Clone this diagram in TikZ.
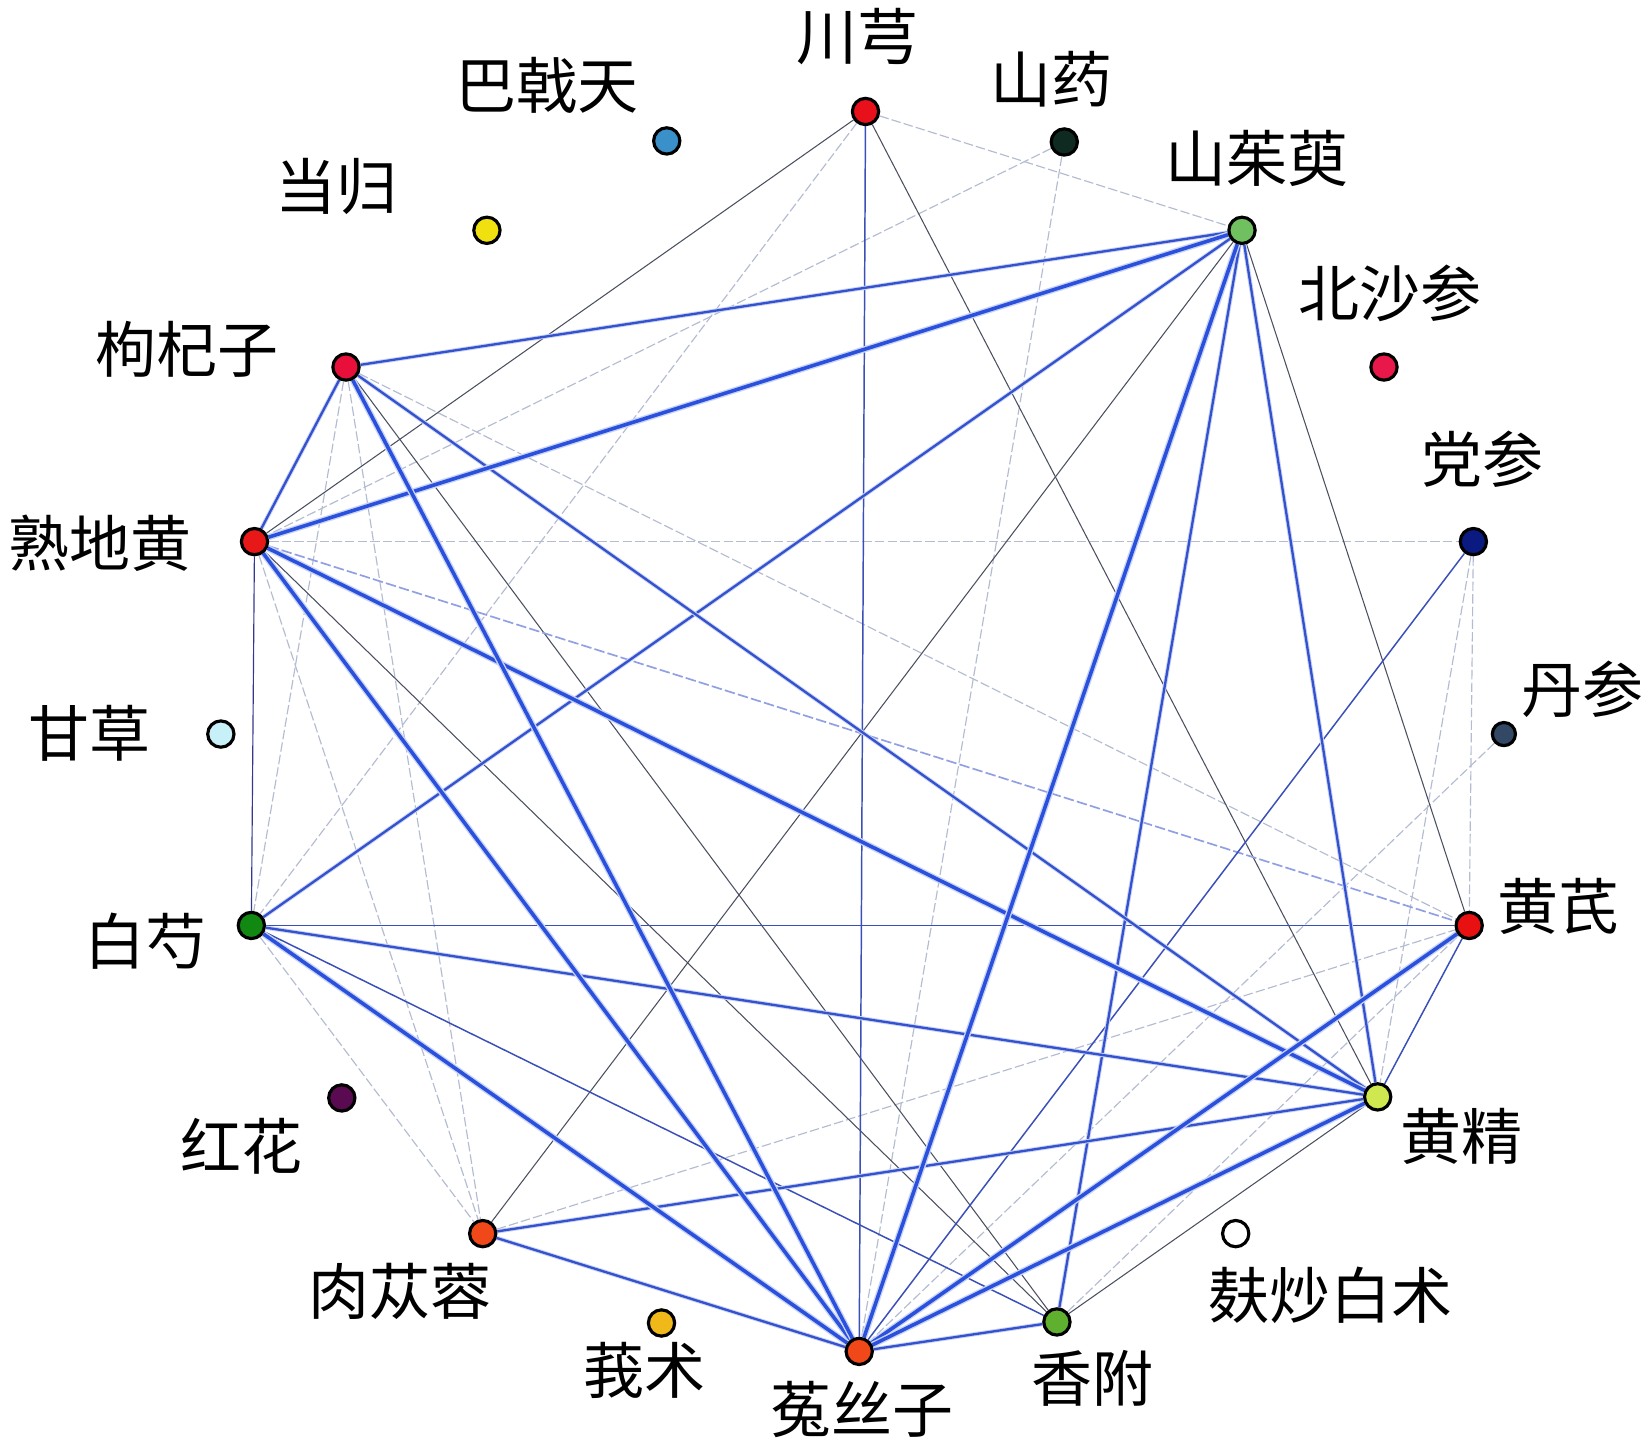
\documentclass[tikz,border=0pt]{standalone}
\usepackage{fontspec}
\setmainfont{Noto Sans CJK SC}
\usetikzlibrary{backgrounds}
\definecolor{eblue}{HTML}{2A50DC}
\definecolor{mblue}{HTML}{3552CC}
\definecolor{tblue}{HTML}{3A4FB8}
\definecolor{dgray}{HTML}{4A5060}
\definecolor{lgray}{HTML}{B4BCD2}
\definecolor{halo}{HTML}{C8D4F8}
\begin{document}
\begin{tikzpicture}[x=1pt,y=-1pt,
  vtx/.style={circle,draw=black,line width=3pt,minimum size=25pt,inner sep=0pt},
  lab/.style={font=\fontsize{58}{58}\selectfont,inner sep=0pt},
  ethick/.style={draw=eblue,line width=3.4pt,preaction={draw=halo,line width=6pt}},
  emed/.style={draw=mblue,line width=2.2pt,preaction={draw=halo,line width=4pt}},
  ethin/.style={draw=tblue,line width=1.4pt},
  esoft/.style={draw=mblue!55,line width=1.6pt,dash pattern=on 10pt off 3pt},
  egb/.style={draw=dgray!70!blue,line width=1.1pt},
  edark/.style={draw=dgray,line width=1pt},
  elight/.style={draw=lgray,line width=1.1pt,dash pattern=on 9pt off 3pt},
]
\useasboundingbox (0,0) rectangle (1568,1372);

% vertices
\node[vtx,fill={rgb,255:red,232;green,16;blue,26}] (CX) at (823,106) {};
\node[vtx,fill={rgb,255:red,15;green,42;blue,32}] (SY) at (1012,135) {};
\node[vtx,fill={rgb,255:red,112;green,192;blue,96}] (SZY) at (1181,219) {};
\node[vtx,fill={rgb,255:red,232;green,24;blue,74}] (BSS) at (1316,349) {};
\node[vtx,fill={rgb,255:red,10;green,26;blue,128}] (DS) at (1401,515) {};
\node[vtx,fill={rgb,255:red,50;green,72;blue,100},minimum size=22pt] (DanS) at (1430,698) {};
\node[vtx,fill={rgb,255:red,232;green,16;blue,16}] (HQ) at (1397,880) {};
\node[vtx,fill={rgb,255:red,208;green,232;blue,80}] (HJ) at (1310,1043) {};
\node[vtx,fill=white] (FCBZ) at (1175,1173) {};
\node[vtx,fill={rgb,255:red,96;green,176;blue,48}] (XF) at (1005,1257) {};
\node[vtx,fill={rgb,255:red,240;green,72;blue,24}] (TSZ) at (817,1285) {};
\node[vtx,fill={rgb,255:red,240;green,184;blue,24}] (EZ) at (629,1258) {};
\node[vtx,fill={rgb,255:red,240;green,72;blue,24}] (RCR) at (459,1173) {};
\node[vtx,fill={rgb,255:red,90;green,10;blue,80}] (HH) at (325,1044) {};
\node[vtx,fill={rgb,255:red,17;green,136;blue,17}] (BS) at (239,880) {};
\node[vtx,fill={rgb,255:red,200;green,240;blue,248}] (GC) at (210,698) {};
\node[vtx,fill={rgb,255:red,232;green,24;blue,24}] (SDH) at (242,515) {};
\node[vtx,fill={rgb,255:red,232;green,16;blue,58}] (GQZ) at (329,349) {};
\node[vtx,fill={rgb,255:red,240;green,224;blue,16}] (DG) at (463,219) {};
\node[vtx,fill={rgb,255:red,58;green,144;blue,200}] (BJT) at (634,134) {};

% labels
\node[lab] (tCX) at (815,35) {川芎};
\node[lab] (tSY) at (1000,75) {山药};
\node[lab] (tSZY) at (1195,151) {山茱萸};
\node[lab] (tBSS) at (1322,279) {北沙参};
\node[lab] (tDS) at (1410,437) {党参};
\node[lab] (tDanS) at (1505,655) {丹参};
\node[lab] (tHQ) at (1482,862) {黄芪};
\node[lab] (tHJ) at (1390,1081) {黄精};
\node[lab] (tFCBZ) at (1265,1232) {麸炒白术};
\node[lab] (tXF) at (1039,1311) {香附};
\node[lab] (tTSZ) at (820,1340) {菟丝子};
\node[lab] (tEZ) at (613,1303) {莪术};
\node[lab] (tRCR) at (380,1228) {肉苁蓉};
\node[lab] (tHH) at (230,1090) {红花};
\node[lab] (tBS) at (138,895) {白芍};
\node[lab] (tGC) at (85,697) {甘草};
\node[lab] (tSDH) at (95,517) {熟地黄};
\node[lab] (tGQZ) at (178,332) {枸杞子};
\node[lab] (tDG) at (320,177) {当归};
\node[lab] (tBJT) at (520,81) {巴戟天};

\begin{scope}[on background layer]
\fill[white] (0,0) rectangle (1568,1372);
% faint lines
\foreach \a/\b in {CX/BS,SDH/DS,CX/SZY,SY/TSZ,SY/SDH,GQZ/BS,GQZ/RCR,SDH/RCR,GQZ/HQ,BS/RCR,RCR/HQ,DS/HQ,DS/HJ,DanS/TSZ,XF/HQ}
  \draw[elight] (\a) -- (\b);
% dark grey thin lines
\foreach \a/\b in {CX/SDH,CX/HJ,SZY/RCR,SZY/HQ,GQZ/XF,SDH/XF,XF/HJ}
  \draw[edark] (\a) -- (\b);
\draw[egb] (BS) -- (SDH);
\draw[esoft] (SDH) -- (HQ);
% thin blue
\foreach \a/\b in {CX/TSZ,BS/HQ,DS/TSZ,HQ/HJ,BS/XF}
  \draw[ethin] (\a) -- (\b);
% medium blue
\foreach \a/\b in {GQZ/SDH,GQZ/SZY,SZY/HJ,SZY/XF,SZY/BS,BS/HJ,RCR/TSZ,RCR/HJ,TSZ/XF,GQZ/HJ}
  \draw[emed] (\a) -- (\b);
% thick blue
\foreach \a/\b in {SDH/SZY,SDH/TSZ,SDH/HJ,GQZ/TSZ,SZY/TSZ,BS/TSZ,TSZ/HQ,TSZ/HJ}
  \draw[ethick] (\a) -- (\b);
\end{scope}
\end{tikzpicture}
\end{document}
